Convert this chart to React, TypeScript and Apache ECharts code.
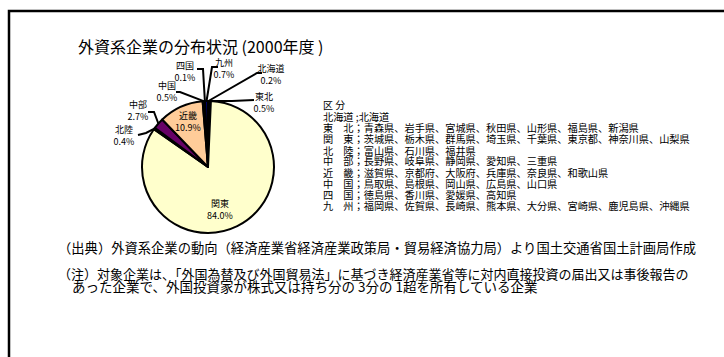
import React, { useEffect, useRef } from "react";
import * as echarts from "echarts";

const regions = ["北海道", "東北", "関東", "北陸", "中部", "近畿", "中国", "四国", "九州"];
const shares = [0.2, 0.5, 84.0, 0.4, 2.7, 10.9, 0.5, 0.1, 0.7];
const sliceColors = ["#9999FF", "#993366", "#FFFFCC", "#CCFFFF", "#660066", "#FFCC99", "#0066CC", "#CCCCFF", "#000080"];

const titleText = "外資系企業の分布状況 (2000年度 )";
const legendHeader = "区 分";
const legendRows = [
  "北海道 ;北海道",
  "東　北；青森県、岩手県、宮城県、秋田県、山形県、福島県、新潟県",
  "関　東；茨城県、栃木県、群馬県、埼玉県、千葉県、東京都、神奈川県、山梨県",
  "北　陸；富山県、石川県、福井県",
  "中　部；長野県、岐阜県、静岡県、愛知県、三重県",
  "近　畿；滋賀県、京都府、大阪府、兵庫県、奈良県、和歌山県",
  "中　国；鳥取県、島根県、岡山県、広島県、山口県",
  "四　国；徳島県、香川県、愛媛県、高知県",
  "九　州；福岡県、佐賀県、長崎県、熊本県、大分県、宮崎県、鹿児島県、沖縄県",
];
const sourceNote = "（出典）外資系企業の動向（経済産業省経済産業政策局・貿易経済協力局）より国土交通省国土計画局作成";
const noteLine1 = "（注）対象企業は、「外国為替及び外国貿易法」に基づき経済産業省等に対内直接投資の届出又は事後報告の";
const noteLine2 = "あった企業で、外国投資家が株式又は持ち分の 3分の 1超を所有している企業";

// label layout (label centre, and leader-line elbow/end)
const labelLayouts: { x: number; y: number; line?: number[][] }[] = [
  { x: 271, y: 74, line: [[257, 73], [262, 73]] },
  { x: 264, y: 102, line: [[232, 101], [254, 100]] },
  { x: 220, y: 209 },
  { x: 124, y: 135, line: [[146, 133], [138, 135]] },
  { x: 138, y: 110, line: [[154, 112], [148, 112]] },
  { x: 188, y: 121 },
  { x: 167, y: 91, line: [[180, 92], [176, 92]] },
  { x: 185, y: 71, line: [[203, 69], [197, 69]] },
  { x: 224, y: 68, line: [[212, 67], [218, 67]] },
];

const legendRowY = [116, 127, 138, 150, 160, 172, 183, 194, 205];

const FONT = "'Noto Sans CJK JP', 'Noto Sans', sans-serif";

export default function App() {
  const ref = useRef<HTMLDivElement>(null);
  useEffect(() => {
    if (!ref.current) return;
    const chart = echarts.init(ref.current, null, { renderer: "svg" });
    const data = regions.map((name, i) => {
      const inside = !labelLayouts[i].line;
      return {
        name,
        value: shares[i],
        itemStyle: { color: sliceColors[i] },
        labelLine: { show: !inside },
      };
    });
    const graphics: any[] = [
      {
        type: "rect",
        shape: { x: 9, y: 11, width: 780, height: 420 },
        style: { fill: "none", stroke: "#000", lineWidth: 2.5 },
        silent: true,
      },
      {
        type: "text",
        x: 78,
        y: 46,
        style: { text: titleText, font: `16px ${FONT}`, fill: "#000", verticalAlign: "middle" },
      },
      {
        type: "text",
        x: 323,
        y: 104,
        style: { text: legendHeader, font: `10px ${FONT}`, lineHeight: 10, fill: "#000", verticalAlign: "middle" },
      },
      ...legendRows.map((t, i) => ({
        type: "text",
        x: 323,
        y: legendRowY[i],
        style: { text: t, font: `10.2px ${FONT}`, lineHeight: 10, fill: "#000", verticalAlign: "middle" },
      })),
      {
        type: "text",
        x: 58,
        y: 247,
        style: { text: sourceNote, font: `13.3px ${FONT}`, lineHeight: 12, fill: "#000", verticalAlign: "middle" },
      },
      {
        type: "text",
        x: 58,
        y: 273,
        style: { text: noteLine1, font: `13px ${FONT}`, lineHeight: 12, fill: "#000", verticalAlign: "middle" },
      },
      {
        type: "text",
        x: 72,
        y: 286,
        style: { text: noteLine2, font: `13.5px ${FONT}`, lineHeight: 12, fill: "#000", verticalAlign: "middle" },
      },
    ];
    chart.setOption({
      animation: false,
      backgroundColor: "#fff",
      textStyle: { fontFamily: FONT },
      series: [
        {
          type: "pie",
          center: [208, 167],
          radius: 66,
          startAngle: 90,
          clockwise: true,
          avoidLabelOverlap: false,
          silent: true,
          itemStyle: { borderColor: "#000", borderWidth: 2 },
          label: {
            show: true,
            position: "outside",
            fontSize: 9,
            lineHeight: 12,
            color: "#000",
            fontFamily: FONT,
            formatter: (p: any) => `${p.name}\n${Number(p.value).toFixed(1)}%`,
          },
          labelLine: { show: true, length: 10, length2: 6, lineStyle: { color: "#000", width: 2 } },
          labelLayout: (params: any) => {
            const L = labelLayouts[params.dataIndex];
            const out: any = { x: L.x, y: L.y, align: "center", verticalAlign: "middle" };
            if (L.line && params.labelLinePoints && params.labelLinePoints[0]) {
              out.labelLinePoints = [params.labelLinePoints[0], L.line[0], L.line[1]];
            }
            return out;
          },
          data,
        },
      ],
      graphic: graphics,
    });
    return () => chart.dispose();
  }, []);
  return (
    <div
      ref={ref}
      style={{ position: "fixed", left: 0, top: 0, width: 724, height: 357, background: "#fff" }}
    />
  );
}
